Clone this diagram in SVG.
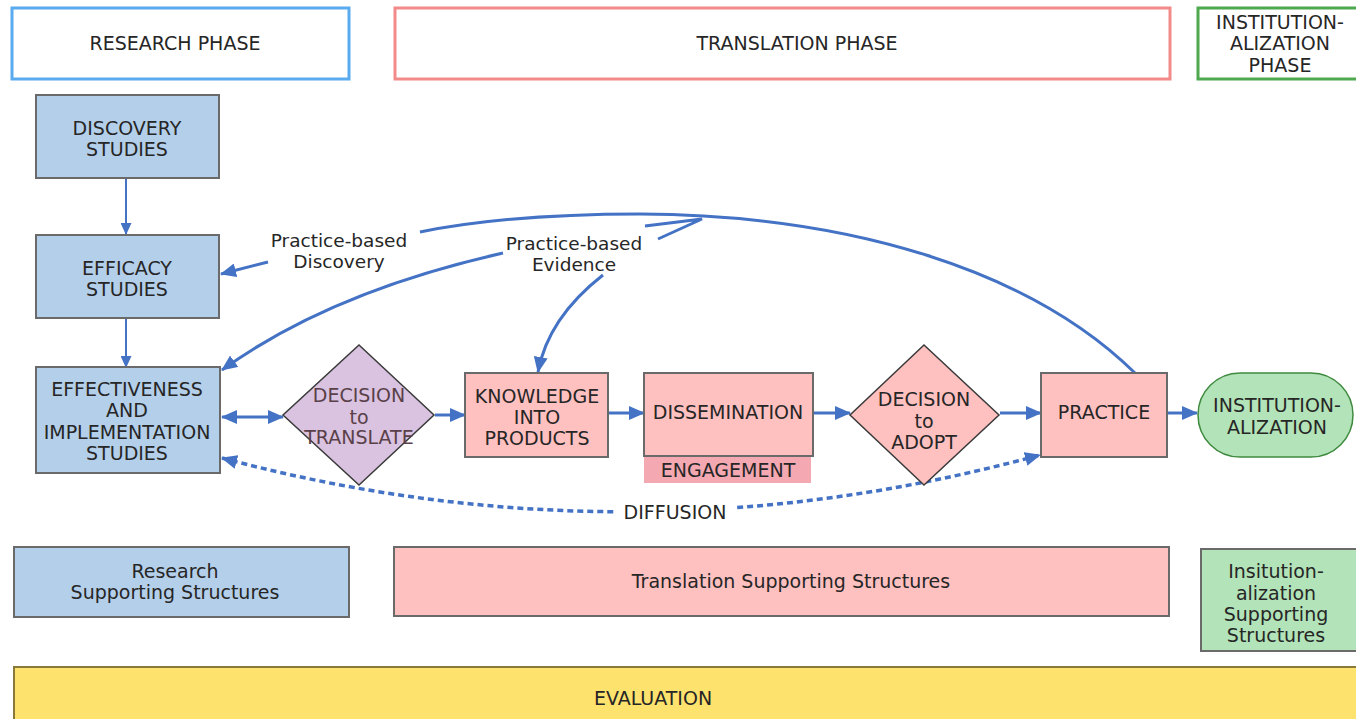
<svg xmlns="http://www.w3.org/2000/svg" width="1356" height="719" viewBox="0 0 1356 719">
<style>
text{font-family:"DejaVu Sans","Liberation Sans",sans-serif;font-size:19px;fill:#262626;text-anchor:middle;dominant-baseline:central}
.sm{font-size:18.5px}
.blue{fill:#b4cfea;stroke:#6a6a6a;stroke-width:2}
.pink{fill:#ffc0c0;stroke:#6a6a6a;stroke-width:2}
.dia{stroke:#3a3a3a;stroke-width:1.5}
.ln{fill:none;stroke:#4472c4;stroke-width:3}
.thin{fill:none;stroke:#4472c4;stroke-width:2}
.dash{fill:none;stroke:#4472c4;stroke-width:3.5;stroke-dasharray:6 4}
</style>
<defs>
<marker id="ah" viewBox="0 0 16 14" refX="15" refY="7" markerWidth="16" markerHeight="14" markerUnits="userSpaceOnUse" orient="auto-start-reverse"><path d="M0,0 L16,7 L0,14 z" fill="#4472c4"/></marker>
<marker id="ahs" viewBox="0 0 12 11" refX="11" refY="5.5" markerWidth="12" markerHeight="11" markerUnits="userSpaceOnUse" orient="auto"><path d="M0,0 L12,5.5 L0,11 z" fill="#4472c4"/></marker>
</defs>
<rect width="1356" height="719" fill="#ffffff"/>

<g id="phase-research"><rect x="12" y="8" width="337" height="71" fill="#fff" stroke="#5aaaf0" stroke-width="3"/><text x="175" y="43">RESEARCH PHASE</text></g>
<g id="phase-translation"><rect x="395" y="8" width="775" height="71" fill="#fff" stroke="#f28a8a" stroke-width="3"/><text x="797" y="43">TRANSLATION PHASE</text></g>
<g id="phase-institution"><rect x="1198" y="8" width="170" height="71" fill="#fff" stroke="#4ea84e" stroke-width="3"/><text x="1280" y="22">INSTITUTION-</text><text x="1280" y="43">ALIZATION</text><text x="1280" y="65">PHASE</text></g>

<g id="connectors">
<line class="thin" x1="126" y1="179" x2="126" y2="234" marker-end="url(#ahs)"/>
<line class="thin" x1="126" y1="319" x2="126" y2="367" marker-end="url(#ahs)"/>
<line class="ln" x1="222" y1="417" x2="283" y2="417" marker-start="url(#ah)" marker-end="url(#ah)"/>
<line class="ln" x1="435" y1="415" x2="465" y2="415" marker-end="url(#ah)"/>
<line class="ln" x1="609" y1="413" x2="644" y2="413" marker-end="url(#ah)"/>
<line class="ln" x1="814" y1="413" x2="850" y2="413" marker-end="url(#ah)"/>
<line class="ln" x1="1000" y1="413" x2="1041" y2="413" marker-end="url(#ah)"/>
<line class="ln" x1="1168" y1="413" x2="1197" y2="413" marker-end="url(#ah)"/>
<path class="ln" d="M1135,373 C1030,270 850,215 640,214 C540,214 470,222 420,232"/>
<polyline class="ln" points="645,226 702,219 658,239"/>
<line class="ln" x1="268" y1="262" x2="221" y2="274" marker-end="url(#ah)"/>
<path class="ln" d="M503,253 Q330,292 222,370" marker-end="url(#ah)"/>
<path class="ln" d="M603,275 Q548,318 538,372" marker-end="url(#ah)"/>
<path class="dash" d="M222,458 Q629,567 1040,455" marker-start="url(#ah)" marker-end="url(#ah)"/>
</g>

<g id="label-pbd"><text class="sm" x="339" y="240">Practice-based</text><text class="sm" x="339" y="261">Discovery</text></g>
<g id="label-pbe"><text class="sm" x="574" y="243">Practice-based</text><text class="sm" x="574" y="264">Evidence</text></g>
<g id="label-diffusion"><rect x="614" y="499" width="122" height="26" fill="#fff"/><text x="675" y="512">DIFFUSION</text></g>

<g id="discovery"><rect class="blue" x="36" y="95" width="183" height="83"/><text x="127" y="128">DISCOVERY</text><text x="127" y="149">STUDIES</text></g>
<g id="efficacy"><rect class="blue" x="36" y="235" width="183" height="83"/><text x="127" y="268">EFFICACY</text><text x="127" y="289">STUDIES</text></g>
<g id="effectiveness"><rect class="blue" x="36" y="367" width="184" height="106"/><text x="127" y="389">EFFECTIVENESS</text><text x="127" y="410">AND</text><text x="127" y="432">IMPLEMENTATION</text><text x="127" y="453">STUDIES</text></g>
<g id="decision-translate"><polygon class="dia" points="359,345 434,415 359,485 283,415" fill="#d9c3e0"/><text x="359" y="395" style="fill:#5a4048">DECISION</text><text x="359" y="417" style="fill:#5a4048">to</text><text x="359" y="437" style="fill:#5a4048">TRANSLATE</text></g>
<g id="knowledge"><rect class="pink" x="465" y="373" width="143" height="84"/><text x="537" y="396">KNOWLEDGE</text><text x="537" y="417">INTO</text><text x="537" y="438">PRODUCTS</text></g>
<g id="dissemination"><rect class="pink" x="644" y="373" width="169" height="83"/><text x="728" y="412">DISSEMINATION</text></g>
<g id="engagement"><rect x="644" y="457" width="167" height="26" fill="#f4a8b2"/><text x="728" y="470">ENGAGEMENT</text></g>
<g id="decision-adopt"><polygon class="dia" points="924,345 999,415 924,485 850,415" fill="#ffc0c0"/><text x="924" y="399">DECISION</text><text x="924" y="421">to</text><text x="924" y="442">ADOPT</text></g>
<g id="practice"><rect class="pink" x="1041" y="373" width="126" height="84"/><text x="1104" y="412">PRACTICE</text></g>
<g id="institutionalization"><rect x="1198" y="373" width="155" height="84" rx="42" fill="#b3e3b8" stroke="#3f8a3f" stroke-width="1.5"/><text x="1277" y="405">INSTITUTION-</text><text x="1277" y="427">ALIZATION</text></g>

<g id="research-support"><rect class="blue" x="14" y="547" width="335" height="70"/><text x="175" y="571">Research</text><text x="175" y="592">Supporting Structures</text></g>
<g id="translation-support"><rect class="pink" x="394" y="547" width="775" height="69"/><text x="791" y="581">Translation Supporting Structures</text></g>
<g id="institution-support"><rect x="1201" y="549" width="170" height="102" fill="#b3e3b8" stroke="#6a6a6a" stroke-width="2"/><text x="1276" y="571">Insitution-</text><text x="1276" y="593">alization</text><text x="1276" y="614">Supporting</text><text x="1276" y="635">Structures</text></g>
<g id="evaluation"><rect x="14" y="667" width="1360" height="60" fill="#fde26e" stroke="#8a7a3a" stroke-width="2"/><text x="653" y="698">EVALUATION</text></g>
</svg>
